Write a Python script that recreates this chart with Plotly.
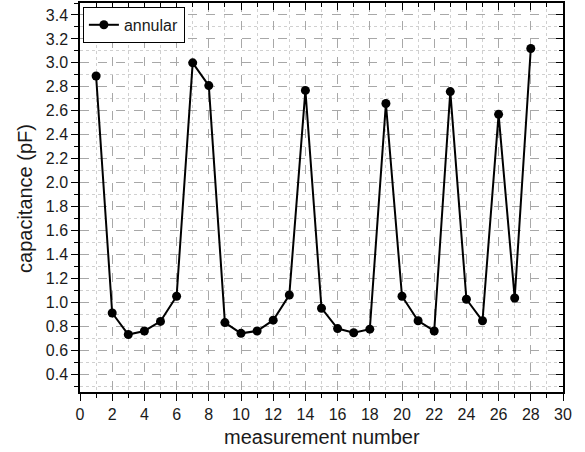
import plotly.graph_objects as go

measurement = list(range(1, 29))
capacitance = [2.89, 0.91, 0.73, 0.76, 0.84, 1.05, 3.00, 2.81, 0.83, 0.74,
               0.76, 0.85, 1.06, 2.77, 0.95, 0.78, 0.745, 0.775, 2.66, 1.05,
               0.845, 0.76, 2.76, 1.025, 0.845, 2.57, 1.035, 3.12]
series_name = "annular"
x_title = "measurement number"
y_title = "capacitance (pF)"

font = "Liberation Sans, Arial, sans-serif"

fig = go.Figure()
fig.add_trace(go.Scatter(
    x=measurement, y=capacitance, mode="lines+markers", name=series_name,
    line=dict(color="black", width=2),
    marker=dict(color="black", size=9),
))
fig.add_trace(go.Scatter(x=[None], y=[None], xaxis="x2", yaxis="y2",
                         showlegend=False, hoverinfo="skip"))

common_minor_x = dict(dtick=1, ticks="outside", ticklen=4, tickcolor="black",
                      showgrid=True, gridcolor="#d0d0d0", griddash="dot", gridwidth=1)
common_minor_y = dict(dtick=0.1, ticks="outside", ticklen=4, tickcolor="black",
                      showgrid=True, gridcolor="#d0d0d0", griddash="dot", gridwidth=1)

fig.update_layout(
    width=585, height=452,
    margin=dict(l=80, r=22, t=3, b=60, autoexpand=False),
    paper_bgcolor="white", plot_bgcolor="white",
    font=dict(family=font, size=16, color="#1a1a1a"),
    showlegend=True,
    legend=dict(x=0.006, y=0.99, xanchor="left", yanchor="top",
                bgcolor="white", bordercolor="black", borderwidth=1,
                font=dict(size=16), itemwidth=30, tracegroupgap=0),
    xaxis=dict(range=[0, 30], dtick=2, tick0=0, ticks="outside", ticklen=7,
               tickwidth=1, tickcolor="black", showline=True, linecolor="black",
               linewidth=1.5, showgrid=True, gridcolor="#a8a8a8", griddash="dash",
               zeroline=False, minor=common_minor_x, automargin=False,
               tickfont=dict(size=16)),
    yaxis=dict(range=[0.25, 3.5], dtick=0.2, tick0=0.4, tickformat=".1f",
               ticks="outside", ticklen=7, tickwidth=1, tickcolor="black",
               showline=True, linecolor="black", linewidth=1.5, showgrid=True,
               gridcolor="#a8a8a8", griddash="dash", zeroline=False,
               minor=common_minor_y, automargin=False,
               tickfont=dict(size=16)),
    xaxis2=dict(overlaying="x", matches="x", side="top", anchor="y", range=[0, 30],
                dtick=2, tick0=0, ticks="inside", ticklen=7, tickcolor="black",
                showticklabels=False, showline=True, linecolor="black", linewidth=1.5,
                showgrid=False, zeroline=False, automargin=False,
                minor=dict(dtick=1, ticks="inside", ticklen=4, tickcolor="black")),
    yaxis2=dict(overlaying="y", matches="y", side="right", anchor="x", range=[0.25, 3.5],
                dtick=0.2, tick0=0.4, ticks="inside", ticklen=7, tickcolor="black",
                showticklabels=False, showline=True, linecolor="black", linewidth=1.5,
                showgrid=False, zeroline=False, automargin=False,
                minor=dict(dtick=0.1, ticks="inside", ticklen=4, tickcolor="black")),
    annotations=[
        dict(text=x_title, xref="paper", yref="paper", x=0.502, y=-0.1157,
             xanchor="center", yanchor="middle", showarrow=False,
             font=dict(size=20)),
        dict(text=y_title, xref="paper", yref="paper", x=-0.1139, y=0.4987,
             xanchor="center", yanchor="middle", showarrow=False, textangle=-90,
             font=dict(size=20)),
    ],
)

fig.write_html("out.html", config={"displayModeBar": False},
               post_script="document.body.style.margin='0';")
